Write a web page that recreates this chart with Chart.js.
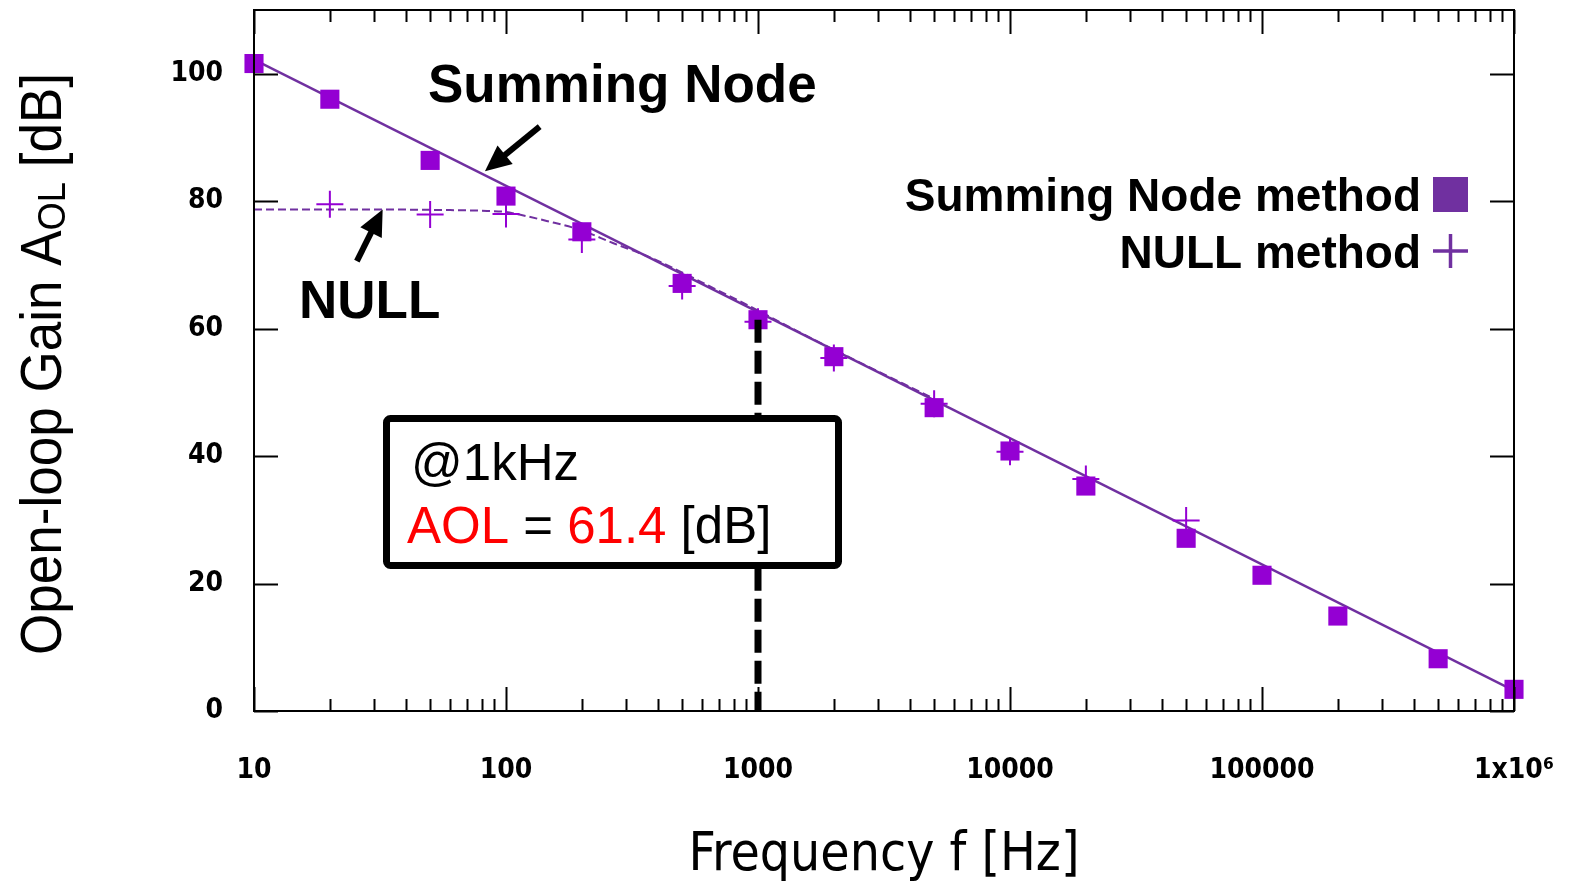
<!DOCTYPE html>
<html>
<head>
<meta charset="utf-8">
<title>Open-loop Gain vs Frequency</title>
<script src="https://cdn.jsdelivr.net/npm/chart.js@4/dist/chart.umd.min.js"></script>
<style>
  html, body { margin: 0; padding: 0; background: #ffffff; }
  #wrap { width: 1569px; height: 888px; }
</style>
</head>
<body>
<div id="wrap"><canvas id="c" width="1569" height="888"></canvas></div>
<script>
// Measured open-loop gain (dB) vs frequency (Hz)
const freqs = [10, 20, 50, 100, 200, 500, 1000, 2000, 5000, 10000, 20000, 50000, 100000, 200000, 500000, 1000000];
const summingNodeGain = [101.6, 96.0, 86.4, 80.8, 75.2, 67.1, 61.4, 55.6, 47.6, 40.8, 35.3, 27.1, 21.3, 14.9, 8.2, 3.4];

const nullFreqs = [20, 50, 100, 200, 500, 1000, 2000, 5000, 10000, 20000, 50000];
const nullGain = [79.5, 77.9, 78.0, 74.0, 66.7, 61.1, 55.4, 48.2, 40.7, 36.4, 29.9];

// Fitted curves
const summingFitFreqs = [10, 1000000];
const summingFitGain = [102.2, 3.2];
const nullFitFreqs = [10, 30, 60, 80, 100, 113, 145, 197, 267, 362, 489, 662, 897, 1400, 2000, 5000];
const nullFitGain = [78.7, 78.7, 78.6, 78.5, 78.3, 77.9, 76.9, 75.5, 73.4, 71.4, 69.0, 66.4, 63.8, 59.8, 56.7, 49.0];

// Axis ticks
const xTickValues = [10, 100, 1000, 10000, 100000, 1000000];
const xTickLabels = ['10', '100', '1000', '10000', '100000', '1x10\u2076'];
const yTickValues = [0, 20, 40, 60, 80, 100];

// Highlighted reading at 1 kHz
const markerFreq = 1000;
const markerGain = 61.4;

const PURPLE = '#7030A0';
const VIOLET = '#9400D3';
const TICK_FONT = '"DejaVu Sans Condensed", "DejaVu Sans", sans-serif';
const SANS = '"Liberation Sans", Arial, sans-serif';

const pts = (xs, ys) => xs.map((x, i) => ({ x: x, y: ys[i] }));

function arrow(ctx, x0, y0, x1, y1) {
  const ang = Math.atan2(y1 - y0, x1 - x0);
  const headLen = 26, headHalf = 12;
  const bx = x1 - headLen * Math.cos(ang), by = y1 - headLen * Math.sin(ang);
  ctx.save();
  ctx.strokeStyle = '#000'; ctx.fillStyle = '#000';
  ctx.lineWidth = 6; ctx.lineCap = 'butt';
  ctx.beginPath(); ctx.moveTo(x0, y0); ctx.lineTo(bx + 2 * Math.cos(ang), by + 2 * Math.sin(ang)); ctx.stroke();
  ctx.beginPath();
  ctx.moveTo(x1, y1);
  ctx.lineTo(bx + headHalf * Math.sin(ang), by - headHalf * Math.cos(ang));
  ctx.lineTo(bx - headHalf * Math.sin(ang), by + headHalf * Math.cos(ang));
  ctx.closePath(); ctx.fill();
  ctx.restore();
}

const decorations = {
  id: 'decorations',
  afterDatasetsDraw(chart) {
    const ctx = chart.ctx;
    const xs = chart.scales.x, ys = chart.scales.y;
    const a = chart.chartArea;

    // frame
    ctx.save();
    ctx.strokeStyle = '#000';
    ctx.lineWidth = 2;
    ctx.strokeRect(a.left, a.top, a.right - a.left, a.bottom - a.top);

    // inward ticks on all four sides
    ctx.beginPath();
    yTickValues.forEach(v => {
      const py = Math.round(ys.getPixelForValue(v)) + 0.5;
      ctx.moveTo(a.left, py); ctx.lineTo(a.left + 24, py);
      ctx.moveTo(a.right, py); ctx.lineTo(a.right - 24, py);
    });
    for (let d = xTickValues[0]; d <= xTickValues[xTickValues.length - 1]; d *= 10) {
      for (let m = 1; m <= 9; m++) {
        const v = d * m;
        if (v > xs.max) break;
        const px = Math.round(xs.getPixelForValue(v)) + 0.5;
        const len = m === 1 ? 24 : 12;
        ctx.moveTo(px, a.bottom); ctx.lineTo(px, a.bottom - len);
        ctx.moveTo(px, a.top); ctx.lineTo(px, a.top + len);
      }
    }
    ctx.stroke();
    ctx.restore();

    // annotations with arrows
    ctx.save();
    ctx.fillStyle = '#000';
    ctx.textBaseline = 'alphabetic';
    ctx.textAlign = 'left';
    ctx.font = 'bold 53px ' + SANS;
    ctx.fillText('Summing Node', 428, 102);
    ctx.fillText('NULL', 299, 318);
    ctx.restore();
    arrow(ctx, xs.getPixelForValue(136), ys.getPixelForValue(91.7), xs.getPixelForValue(82.5), ys.getPixelForValue(84.7));
    arrow(ctx, xs.getPixelForValue(25.6), ys.getPixelForValue(70.6), xs.getPixelForValue(32.4), ys.getPixelForValue(78.7));

    // reading box
    const bl = 386.5, bt = 418.5, bw = 452, bh = 147;
    ctx.save();
    ctx.beginPath();
    ctx.roundRect(bl, bt, bw, bh, 4);
    ctx.fillStyle = '#fff';
    ctx.fill();
    ctx.lineWidth = 7;
    ctx.strokeStyle = '#000';
    ctx.stroke();
    ctx.font = '51px ' + SANS;
    ctx.textBaseline = 'alphabetic';
    ctx.textAlign = 'left';
    ctx.fillStyle = '#000';
    ctx.fillText('@1kHz', 411, 480);
    const parts = [['AOL', '#ff0000'], [' = ', '#000'], [markerGain.toFixed(1), '#ff0000'], [' [dB]', '#000']];
    let tx = 407;
    parts.forEach(([t, c]) => {
      ctx.fillStyle = c;
      ctx.fillText(t, tx, 543);
      tx += ctx.measureText(t).width;
    });
    ctx.restore();

    // legend
    ctx.save();
    ctx.font = 'bold 46px ' + SANS;
    ctx.fillStyle = '#000';
    ctx.textAlign = 'right';
    ctx.textBaseline = 'alphabetic';
    ctx.fillText('Summing Node method', 1421, 211);
    ctx.fillText('NULL method', 1421, 268);
    ctx.fillStyle = PURPLE;
    ctx.fillRect(1433, 177, 35, 35);
    ctx.strokeStyle = PURPLE;
    ctx.lineWidth = 3.5;
    ctx.beginPath();
    ctx.moveTo(1433, 251); ctx.lineTo(1468, 251);
    ctx.moveTo(1450.5, 234); ctx.lineTo(1450.5, 268);
    ctx.stroke();
    ctx.restore();

    // y-axis title with subscript
    ctx.save();
    const big = '57px ' + SANS, small = '39px ' + SANS;
    const t1 = 'Open-loop Gain A', t2 = 'OL', t3 = ' [dB]';
    ctx.font = big; const w1 = ctx.measureText(t1).width, w3 = ctx.measureText(t3).width;
    ctx.font = small; const w2 = ctx.measureText(t2).width;
    const k = 582 / (w1 + w2 + w3);
    ctx.translate(61, 655);
    ctx.rotate(-Math.PI / 2);
    ctx.scale(k, 1);
    ctx.fillStyle = '#000';
    ctx.textAlign = 'left';
    ctx.textBaseline = 'alphabetic';
    ctx.font = big; ctx.fillText(t1, 0, 0);
    ctx.font = small; ctx.fillText(t2, w1, 4);
    ctx.font = big; ctx.fillText(t3, w1 + w2, 0);
    ctx.restore();
  }
};

new Chart(document.getElementById('c'), {
  type: 'line',
  data: {
    datasets: [
      {
        label: '1 kHz reading',
        data: [{ x: markerFreq, y: markerGain }, { x: markerFreq, y: 0 }],
        borderColor: '#000', borderWidth: 7, borderDash: [23, 8], borderCapStyle: 'butt',
        pointRadius: 0, fill: false
      },
      {
        label: 'Summing Node method',
        data: pts(freqs, summingNodeGain),
        showLine: false, pointStyle: 'rect', pointRadius: 13.5,
        backgroundColor: VIOLET, borderColor: VIOLET, borderWidth: 0, clip: false
      },
      {
        label: 'NULL method',
        data: pts(nullFreqs, nullGain),
        showLine: false, pointStyle: 'cross', pointRadius: 13.5,
        borderColor: VIOLET, borderWidth: 2, clip: false
      },
      {
        label: 'Summing Node fit',
        data: pts(summingFitFreqs, summingFitGain),
        borderColor: PURPLE, borderWidth: 2.5, pointRadius: 0, fill: false
      },
      {
        label: 'NULL fit',
        data: pts(nullFitFreqs, nullFitGain),
        borderColor: PURPLE, borderWidth: 2, borderDash: [8, 4], pointRadius: 0,
        cubicInterpolationMode: 'monotone', fill: false
      }
    ]
  },
  options: {
    responsive: false,
    animation: false,
    devicePixelRatio: 1,
    layout: { autoPadding: false, padding: { top: 10, right: 55, left: 0, bottom: 0 } },
    plugins: { legend: { display: false }, tooltip: { enabled: false } },
    scales: {
      x: {
        type: 'logarithmic',
        min: 10, max: 1000000,
        afterFit(scale) {
          scale.height = 177;
          scale.paddingLeft = 0; scale.paddingRight = 0;
          scale.paddingTop = 0; scale.paddingBottom = 0;
        },
        afterBuildTicks(scale) { scale.ticks = xTickValues.map(v => ({ value: v, major: true })); },
        grid: { display: false, drawTicks: false },
        border: { display: false },
        ticks: {
          autoSkip: false, maxRotation: 0, padding: 43, color: '#000',
          font: { family: TICK_FONT, size: 28, weight: 'bold' },
          callback(value) { const i = xTickValues.indexOf(value); return i >= 0 ? xTickLabels[i] : ''; }
        },
        title: {
          display: true, text: 'Frequency f [Hz]', color: '#000',
          font: { family: TICK_FONT, size: 53, weight: 'normal' },
          padding: { top: 0, bottom: 0 }
        }
      },
      y: {
        type: 'linear',
        min: 0, max: 110,
        afterFit(scale) {
          scale.width = 254;
          scale.paddingLeft = 0; scale.paddingRight = 0;
          scale.paddingTop = 0; scale.paddingBottom = 0;
        },
        afterBuildTicks(scale) { scale.ticks = yTickValues.map(v => ({ value: v })); },
        grid: { display: false, drawTicks: false },
        border: { display: false },
        ticks: {
          padding: 31, color: '#000',
          font: { family: TICK_FONT, size: 28, weight: 'bold', lineHeight: 0.6 }
        }
      }
    }
  },
  plugins: [decorations]
});
</script>
</body>
</html>
